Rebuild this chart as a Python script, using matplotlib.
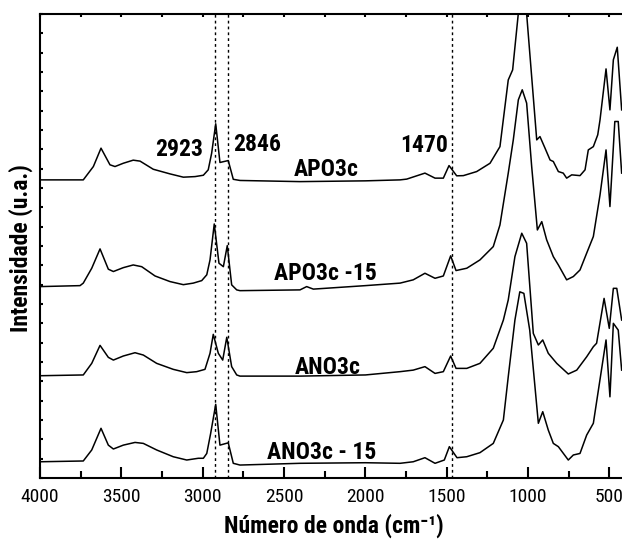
import matplotlib
matplotlib.use("Agg")
import matplotlib.pyplot as plt
from matplotlib.ticker import MultipleLocator

FONT = ['Roboto Condensed', 'Liberation Sans', 'DejaVu Sans']
plt.rcParams['font.family'] = FONT

# ---- data (wavenumber cm-1, relative intensity) ----
wn_apo3c = [4000, 3734, 3672, 3625, 3570, 3539, 3488, 3427, 3385, 3304, 3201, 3119, 3047, 2996,
            2966, 2945, 2920, 2894, 2843, 2812, 2771, 2402, 2000, 1787, 1746, 1634, 1572, 1521,
            1486, 1439, 1398, 1316, 1234, 1173, 1122, 1095, 1060, 1037, 1009, 947, 927, 896,
            865, 845, 814, 784, 763, 732, 681, 650, 630, 599, 572, 558, 521, 497, 476, 452, 425]
i_apo3c = [0, 0, 0.69, 1.64, 0.78, 0.69, 0.86, 1.02, 0.97, 0.55, 0.31, 0.14, 0.17, 0.24,
           0.52, 1.38, 2.90, 0.90, 1.00, 0.03, -0.03, -0.09, -0.05, 0.0, 0.04, 0.35, 0.09, 0.09,
           0.74, 0.21, 0.22, 0.43, 0.86, 1.72, 5.17, 5.69, 8.62, 9.83, 8.59, 2.07, 2.24, 1.64,
           1.03, 0.95, 0.43, 0.35, 0.09, 0.26, 0.22, 0.52, 1.55, 1.72, 2.33, 3.10, 5.74, 3.62,
           6.21, 6.86, 3.62]

wn_apo3c15 = [4000, 3754, 3734, 3682, 3631, 3580, 3549, 3488, 3427, 3375, 3293, 3201, 3119, 3058,
              3006, 2975, 2955, 2929, 2900, 2873, 2849, 2822, 2791, 2771, 2402, 2361, 2320, 2000,
              1787, 1706, 1634, 1572, 1521, 1476, 1443, 1377, 1296, 1214, 1173, 1122, 1091, 1060,
              1036, 1009, 978, 943, 916, 886, 845, 814, 763, 722, 681, 640, 599, 558, 521, 497,
              467, 446, 425]
i_apo3c15 = [0, 0.05, 0.18, 0.95, 1.95, 0.90, 0.78, 0.98, 1.12, 1.03, 0.55, 0.26, 0.10, 0.18,
             0.31, 0.61, 1.38, 3.24, 1.21, 1.03, 2.12, 0.09, -0.17, -0.21, -0.17, 0.0, -0.13, 0.05,
             0.18, 0.35, 0.69, 0.43, 0.55, 1.59, 0.83, 0.95, 1.38, 2.07, 3.19, 5.87, 7.59, 9.66,
             10.18, 9.49, 6.21, 2.93, 3.36, 2.42, 1.55, 1.12, 0.35, 0.52, 0.86, 1.73, 2.59, 4.74,
             7.07, 4.14, 8.54, 8.54, 5.87]

wn_ano3c = [4000, 3734, 3682, 3631, 3580, 3549, 3488, 3416, 3365, 3283, 3181, 3098, 3037, 2986,
            2955, 2935, 2904, 2877, 2852, 2822, 2791, 2771, 2402, 2000, 1787, 1706, 1634, 1572,
            1521, 1476, 1443, 1377, 1296, 1214, 1152, 1122, 1081, 1039, 1009, 968, 937, 910,
            876, 824, 753, 701, 640, 599, 579, 533, 501, 476, 455, 425]
i_ano3c = [0, 0.04, 0.64, 1.57, 0.95, 0.81, 1.02, 1.19, 1.07, 0.64, 0.33, 0.16, 0.21, 0.33,
           1.16, 2.14, 1.16, 0.81, 1.99, 0.47, 0.04, -0.02, -0.02, 0.04, 0.21, 0.29, 0.47, 0.12,
           0.21, 1.02, 0.38, 0.38, 0.64, 1.42, 2.88, 3.92, 6.16, 7.37, 6.85, 2.19, 1.59, 1.85,
           1.16, 0.64, 0.09, 0.29, 0.98, 1.50, 1.68, 4.00, 2.45, 4.52, 4.52, 2.88]

wn_ano3c15 = [4000, 3734, 3682, 3625, 3580, 3549, 3488, 3416, 3365, 3283, 3181, 3098, 3027, 2996,
              2975, 2951, 2920, 2894, 2843, 2812, 2771, 2402, 2000, 1787, 1706, 1634, 1572, 1515,
              1484, 1437, 1377, 1296, 1214, 1152, 1122, 1081, 1051, 1026, 990, 937, 910, 876,
              845, 814, 753, 722, 681, 640, 599, 521, 497, 476, 446, 425]
i_ano3c15 = [0, 0.04, 0.61, 1.73, 0.86, 0.66, 0.86, 1.00, 0.95, 0.61, 0.26, 0.09, 0.18, 0.18,
             0.43, 1.47, 2.97, 0.86, 0.98, -0.08, -0.17, -0.08, -0.05, -0.08, 0.0, 0.21, -0.08, 0.09,
             0.78, 0.21, 0.26, 0.47, 0.95, 2.16, 4.40, 7.33, 8.79, 8.71, 6.81, 1.99, 2.59, 1.64,
             0.95, 0.78, 0.09, 0.35, 0.43, 1.38, 1.99, 6.30, 3.36, 7.16, 6.81, 4.74]

sample_names = ['APO3c', 'APO3c -15', 'ANO3c', 'ANO3c - 15']
offsets = [15.42, 9.90, 5.29, 0.84]
marked_bands = [2923, 2846, 1470]
band_labels = ['2923', '2846', '1470']
xtick_vals = [4000, 3500, 3000, 2500, 2000, 1500, 1000, 500]

# ---- figure ----
W, H = 622, 547
fig = plt.figure(figsize=(W / 100, H / 100), dpi=100)
ax = fig.add_axes([40 / W, (H - 478) / H, (W - 40) / W, (478 - 14) / H])

series = [(wn_apo3c, i_apo3c), (wn_apo3c15, i_apo3c15),
          (wn_ano3c, i_ano3c), (wn_ano3c15, i_ano3c15)]
for (wn, it), off in zip(series, offsets):
    ax.plot(wn, [v + off for v in it], color='black', lw=1.1)

for b in marked_bands:
    ax.axvline(b, color='black', lw=1.0, ls=(0, (2, 2.2)))

ax.set_xlim(4000, 4000 - 582 / 0.1627)
ax.set_ylim(0, 24)

ax.spines['right'].set_visible(False)
for s in ['left', 'top', 'bottom']:
    ax.spines[s].set_linewidth(1.5)

ax.set_xticks(xtick_vals)
ax.set_xticklabels([str(v) for v in xtick_vals])
ax.xaxis.set_minor_locator(MultipleLocator(250))
ax.yaxis.set_major_locator(MultipleLocator(1))
ax.tick_params(axis='x', which='major', direction='in', length=8, width=1.5,
               top=False, pad=7, labelsize=14)
ax.tick_params(axis='x', which='minor', direction='in', length=5, width=1.5, top=False)
ax.tick_params(axis='y', which='both', direction='in', length=2.5, width=1.5,
               right=False, labelleft=False)

# top spine ticks (every 250, small, inward)
sec = ax.secondary_xaxis('top')
sec.xaxis.set_major_locator(MultipleLocator(250))
sec.tick_params(axis='x', direction='in', length=2.5, width=1.5, labeltop=False)
sec.spines['top'].set_visible(False)

def px(x, y):
    return x / W, 1 - y / H

FS = 17
band_pos = [(179.5, 149), (257.5, 144.5), (424, 146)]
for lab, (lx, ly) in zip(band_labels, band_pos):
    fig.text(*px(lx, ly), lab, ha='center', va='center', fontsize=FS,
             fontweight='bold', family=FONT)

label_pos = [(326, 170), (325, 274), (328, 367.5), (321.7, 452.5)]
for name, (lx, ly) in zip(sample_names, label_pos):
    fig.text(*px(lx, ly), name, ha='center', va='center', fontsize=FS,
             fontweight='bold', family=FONT)

fig.text(*px(334, 526), 'Número de onda (cm⁻¹)', ha='center', va='center', fontsize=17,
         fontweight='bold', family=FONT)
fig.text(*px(21, 248), 'Intensidade (u.a.)', ha='center', va='center', fontsize=17,
         fontweight='bold', rotation=90, family=FONT)

fig.savefig('out.png', dpi=100)
